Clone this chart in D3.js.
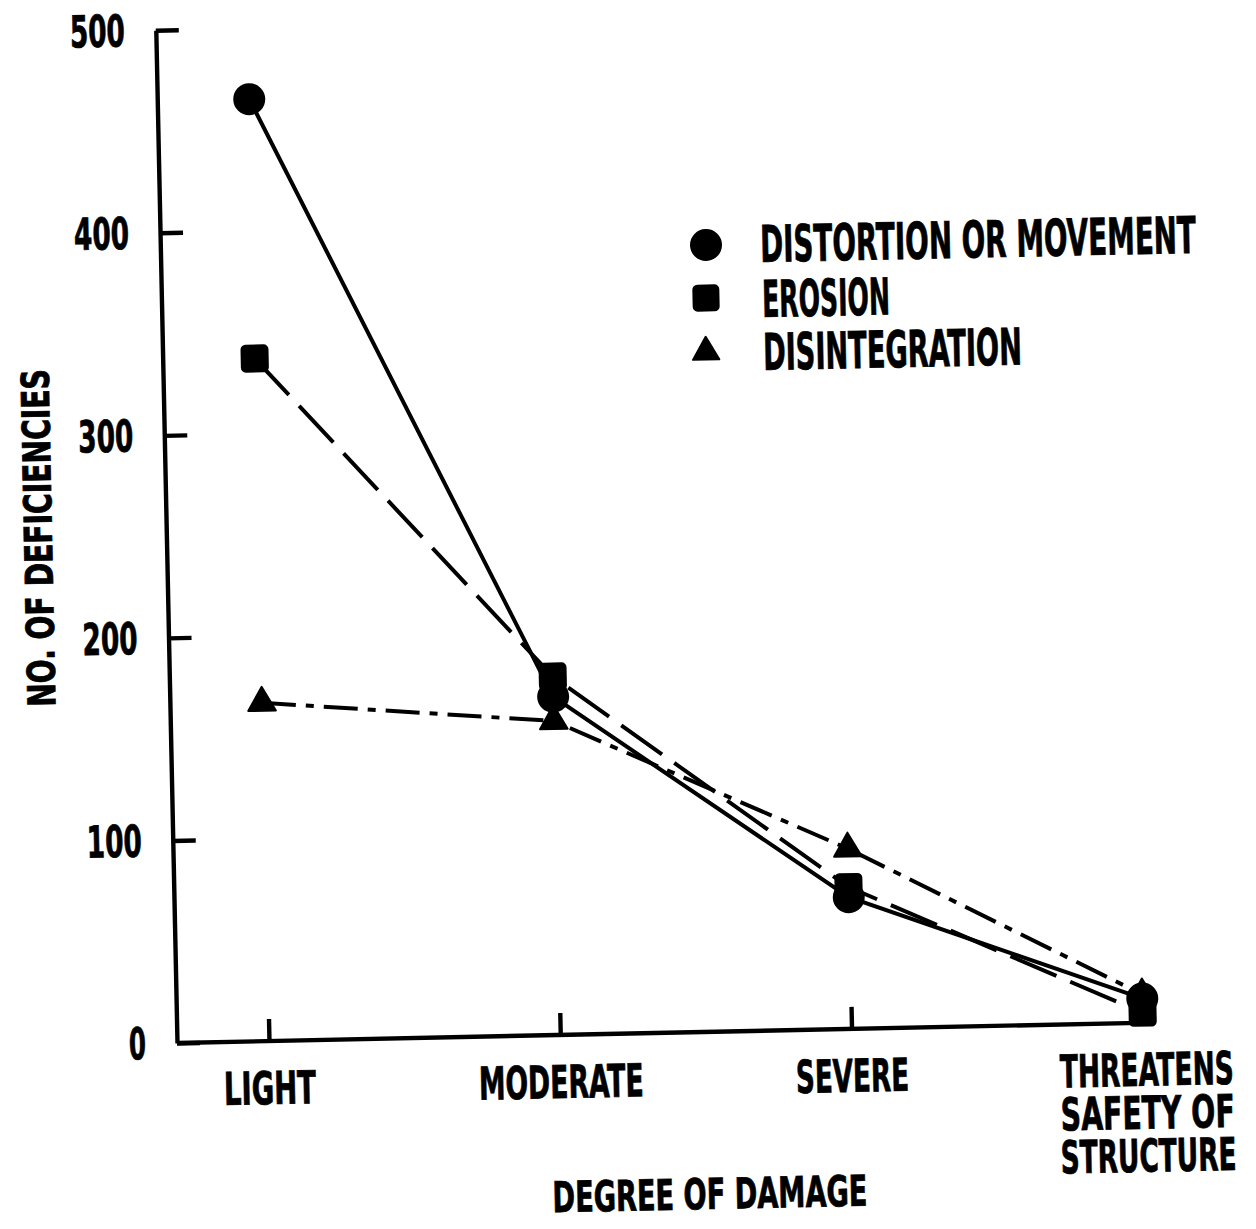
<!DOCTYPE html>
<html>
<head>
<meta charset="utf-8">
<script src="https://cdn.jsdelivr.net/npm/d3@7/dist/d3.min.js"></script>
<style>
  html, body { margin: 0; padding: 0; background: #fff; }
  text { font-family: "Liberation Sans Narrow", "DejaVu Sans Condensed", "Liberation Sans", sans-serif; font-weight: bold; fill: #000; stroke: #000; stroke-width: 0.8px; }
</style>
</head>
<body>
<svg id="chart" width="1256" height="1229"></svg>
<script>
// ---- data ----
const categories = ["LIGHT", "MODERATE", "SEVERE", "THREATENS SAFETY OF STRUCTURE"];
const categoryLines = [["LIGHT"], ["MODERATE"], ["SEVERE"], ["THREATENS", "SAFETY OF", "STRUCTURE"]];
const distortion = [465, 167, 65, 12];
const erosion = [337, 177, 70, 5];
const disintegration = [167, 155, 89, 14];
const yTicks = [0, 100, 200, 300, 400, 500];
const seriesNames = ["DISTORTION OR MOVEMENT", "EROSION", "DISINTEGRATION"];

// ---- layout ----
const W = 1256, H = 1229;
const ox = 177, oy = 1043;        // origin (screen)
const rot = -1.2;                 // slight scan tilt
const a = rot * Math.PI / 180, ca = Math.cos(a), sa = Math.sin(a);
// screen -> group frame
function unrot(sx, sy) {
  const rx = sx - ox, ry = sy - oy;
  return [rx * ca + ry * sa, -rx * sa + ry * ca];
}

const svg = d3.select("#chart");
svg.append("rect").attr("width", W).attr("height", H).attr("fill", "#fff");
const g = svg.append("g").attr("transform", `translate(${ox},${oy}) rotate(${rot})`);

// text fitted to a width and cap height: font size from width, vertical stretch for height
const CAP = 0.729;
function fitText(parent, str, px, py, width, cap, anchor, angle) {
  const t = parent.append("text").attr("font-size", 100).attr("text-anchor", anchor).text(str);
  const nat = t.node().getComputedTextLength();
  const fs = 100 * width / nat;
  const sy = cap / (fs * CAP);
  t.attr("font-size", fs)
   .style("stroke-width", (0.8 / Math.max(sy, 1)).toFixed(2) + "px")
   .attr("transform", `translate(${px},${py})${angle ? ` rotate(${angle})` : ""} scale(1,${sy})`);
  return t;
}

const x = d3.scalePoint().domain(categories).range([92, 966]);
const y = d3.scaleLinear().domain([0, 500]).range([0, -1013]);

const SW = 4;

// y axis
const yAxis = d3.axisLeft(y).tickValues(yTicks).tickSizeInner(-23).tickSizeOuter(0).tickPadding(31).tickFormat(d3.format("d"));
const yg = g.append("g").call(yAxis);
yg.select(".domain").attr("stroke", "#000").attr("stroke-width", SW + 0.4);
yg.selectAll(".tick line").attr("stroke", "#000").attr("stroke-width", SW + 0.4);
yg.selectAll(".tick text")
  .attr("font-size", 44)
  .attr("dy", "0.34em")
  .attr("textLength", d => d === 0 ? 17 : 55)
  .attr("lengthAdjust", "spacingAndGlyphs")
  .style("font-family", '"Liberation Sans Narrow", "DejaVu Sans Condensed", sans-serif')
  .style("font-weight", "bold");

// x axis (ticks upward)
const xAxis = d3.axisBottom(x).tickSizeInner(-22).tickSizeOuter(0).tickFormat("");
const xg = g.append("g").call(xAxis);
xg.select(".domain").remove();
xg.selectAll(".tick line").attr("stroke", "#000").attr("stroke-width", SW + 0.4);
g.append("line")
  .attr("x1", 0).attr("y1", y(0))
  .attr("x2", x(categories[categories.length - 1]) + 8).attr("y2", y(0))
  .attr("stroke", "#000").attr("stroke-width", SW + 0.4);

// x tick labels
const labelWidths = [[92], [165], [113], [174, 174, 176]];
categories.forEach((c, i) => {
  categoryLines[i].forEach((ln, j) => {
    const multi = categoryLines[i].length > 1;
    fitText(g, ln, x(c) + (multi ? 3 : 0), 63 + j * 43, labelWidths[i][j], 33, "middle");
  });
});

// axis titles
{
  const [tx, ty] = unrot(710, 1200);
  fitText(g, "DEGREE OF DAMAGE", tx, ty + 9, 315, 31, "middle");
}
{
  const [tx, ty] = unrot(38, 538);
  fitText(g, "NO. OF DEFICIENCIES", tx + 14, ty, 338, 28, "middle", -90);
}

// series
const series = [
  { name: seriesNames[0], values: distortion, dash: null, symbol: d3.symbolCircle, size: Math.PI * 15 * 15 },
  { name: seriesNames[1], values: erosion, dash: "50,15", symbol: "square", size: 28 },
  { name: seriesNames[2], values: disintegration, dash: "34,10,8,10", symbol: d3.symbolTriangle, size: 330 }
];

const line = d3.line().x((d, i) => x(categories[i])).y(d => y(d));

series.forEach(s => {
  g.append("path")
    .datum(s.values)
    .attr("d", line)
    .attr("fill", "none")
    .attr("stroke", "#000")
    .attr("stroke-width", SW)
    .attr("stroke-dasharray", s.dash);
});

function drawMarker(sel, s, cx, cy) {
  if (s.symbol === "square") {
    sel.append("rect")
      .attr("x", cx - s.size / 2).attr("y", cy - s.size / 2)
      .attr("width", s.size).attr("height", s.size)
      .attr("rx", 5).attr("fill", "#000");
  } else {
    sel.append("path")
      .attr("transform", `translate(${cx},${cy})`)
      .attr("d", d3.symbol().type(s.symbol).size(s.size)())
      .attr("fill", "#000")
      .attr("stroke", "#000").attr("stroke-width", 2).attr("stroke-linejoin", "round");
  }
}

series.forEach(s => {
  s.values.forEach((v, i) => drawMarker(g, s, x(categories[i]), y(v)));
});

// legend
const legendMarkerScreen = [[706, 245], [706, 298], [706, 352]];
const legendTextScreen = [[760, 243, 436], [762, 298, 128], [763, 351, 259]];
series.forEach((s, i) => {
  const [mx, my] = unrot(...legendMarkerScreen[i]);
  const ms = Object.assign({}, s);
  if (s.symbol === "square") ms.size = 27;
  if (s.symbol === d3.symbolTriangle) ms.size = 300;
  drawMarker(g, ms, mx, my);
  const [tx, ty] = unrot(legendTextScreen[i][0], legendTextScreen[i][1]);
  fitText(g, s.name, tx, ty + 19, legendTextScreen[i][2], 37, "start");
});
</script>
</body>
</html>
